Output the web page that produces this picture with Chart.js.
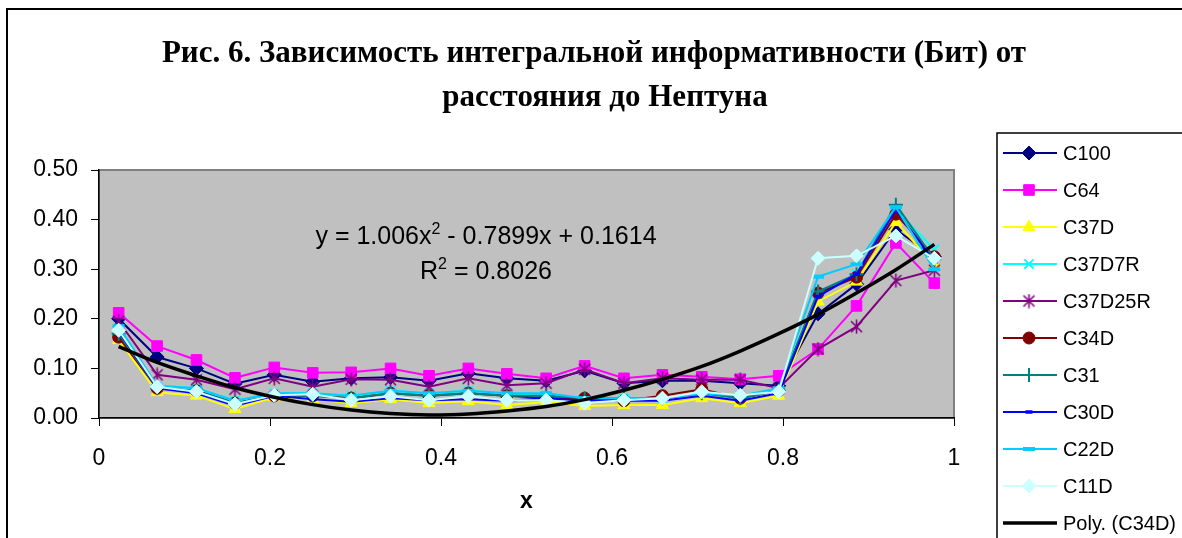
<!DOCTYPE html>
<html><head><meta charset="utf-8">
<script src="https://cdn.jsdelivr.net/npm/chart.js@4/dist/chart.umd.min.js"></script>
<style>html,body{margin:0;padding:0;background:#fff;}canvas{display:block;}</style>
</head><body>
<canvas id="c" width="1182" height="538"></canvas>
<script>
// ---- data ----
const xValues = [0.023,0.068,0.114,0.159,0.205,0.25,0.295,0.341,0.386,0.432,0.477,0.523,0.568,0.614,0.659,0.705,0.75,0.795,0.841,0.886,0.932,0.977];
const seriesNames = ['C100','C64','C37D','C37D7R','C37D25R','C34D','C31','C30D','C22D','C11D'];
const C100    = [0.200,0.123,0.100,0.069,0.087,0.073,0.080,0.082,0.075,0.090,0.080,0.075,0.095,0.070,0.075,0.075,0.070,0.065,0.210,0.270,0.380,0.325];
const C64     = [0.212,0.145,0.117,0.081,0.102,0.091,0.092,0.100,0.085,0.100,0.089,0.080,0.105,0.080,0.087,0.083,0.078,0.085,0.139,0.226,0.353,0.272];
const C37D    = [0.157,0.052,0.045,0.018,0.042,0.038,0.030,0.038,0.030,0.034,0.026,0.032,0.024,0.026,0.026,0.040,0.030,0.045,0.235,0.275,0.395,0.310];
const C37D7R  = [0.180,0.065,0.060,0.035,0.050,0.050,0.045,0.055,0.050,0.055,0.050,0.045,0.040,0.040,0.040,0.050,0.045,0.055,0.250,0.290,0.420,0.340];
const C37D25R = [0.195,0.087,0.077,0.058,0.080,0.063,0.078,0.077,0.063,0.080,0.066,0.070,0.098,0.070,0.080,0.077,0.077,0.060,0.139,0.184,0.277,0.298];
const C34D    = [0.163,0.060,0.055,0.030,0.045,0.045,0.040,0.050,0.045,0.050,0.045,0.040,0.040,0.035,0.045,0.058,0.040,0.055,0.252,0.284,0.411,0.325];
const C31     = [0.170,0.060,0.055,0.030,0.045,0.045,0.040,0.050,0.045,0.050,0.045,0.045,0.040,0.040,0.040,0.050,0.040,0.055,0.255,0.290,0.430,0.320];
const C30D    = [0.175,0.060,0.050,0.025,0.045,0.038,0.033,0.040,0.036,0.038,0.035,0.040,0.035,0.035,0.035,0.045,0.035,0.050,0.245,0.290,0.420,0.315];
const C22D    = [0.185,0.065,0.060,0.035,0.050,0.050,0.045,0.055,0.050,0.055,0.050,0.050,0.040,0.040,0.040,0.050,0.045,0.060,0.285,0.310,0.425,0.300];
const C11D    = [0.177,0.063,0.053,0.028,0.046,0.048,0.036,0.044,0.036,0.044,0.036,0.036,0.030,0.036,0.040,0.053,0.046,0.053,0.322,0.327,0.367,0.322];
const trendName = 'Poly. (C34D)';
const trendC34D = [0.144,0.112,0.085,0.061,0.042,0.027,0.016,0.009,0.006,0.008,0.014,0.023,0.037,0.056,0.078,0.104,0.135,0.170,0.209,0.252,0.299,0.350];
const xTicks = [0,0.2,0.4,0.6,0.8,1];
const yTicks = [0,0.1,0.2,0.3,0.4,0.5];
const titleLines = ['Рис. 6. Зависимость интегральной информативности (Бит) от','расстояния до Нептуна'];
const xTitle = 'x';
const eqParts = [['y = 1.006x',false],['2',true],[' - 0.7899x + 0.1614',false]];
const r2Parts = [['R',false],['2',true],[' = 0.8026',false]];

// ---- styles ----
function asterisk(color){
  const c=document.createElement('canvas'); c.width=15; c.height=15;
  const g=c.getContext('2d'); g.strokeStyle=color; g.lineWidth=1.6;
  g.beginPath(); g.moveTo(2,2); g.lineTo(13,13); g.moveTo(13,2); g.lineTo(2,13);
  g.moveTo(7.5,0.5); g.lineTo(7.5,14.5); g.stroke(); return c;
}
const styles = [
  {color:'#000080', ps:'rectRot', r:7, bw:1},
  {color:'#FF00FF', ps:'rect', r:7.5, bw:1},
  {color:'#FFFF00', ps:'triangle', r:7, bw:1},
  {color:'#00FFFF', ps:'crossRot', r:6.5, bw:2},
  {color:'#800080', ps:asterisk('#800080'), r:7, bw:1},
  {color:'#800000', ps:'circle', r:6, bw:1},
  {color:'#008080', ps:'cross', r:7, bw:2},
  {color:'#0000FF', ps:'line', r:3.5, bw:3.5},
  {color:'#00CCFF', ps:'line', r:6, bw:4},
  {color:'#CCFFFF', ps:'rectRot', r:7, bw:1}
];
const seriesValues = [C100,C64,C37D,C37D7R,C37D25R,C34D,C31,C30D,C22D,C11D];

const datasets = seriesValues.map((vals,i)=>({
  label: seriesNames[i],
  data: vals.map((v,k)=>({x:xValues[k],y:v})),
  borderColor: styles[i].color,
  backgroundColor: styles[i].color,
  borderWidth: 2,
  pointStyle: styles[i].ps,
  pointRadius: styles[i].r,
  pointBorderWidth: styles[i].bw,
  pointBackgroundColor: styles[i].color,
  pointBorderColor: styles[i].color,
  tension: 0,
  order: 10 - i
}));
datasets.push({
  label: trendName,
  data: trendC34D.map((v,k)=>({x:xValues[k],y:v})),
  borderColor:'#000', borderWidth:3.5, pointRadius:0, tension:0.35, order:-1
});

function drawRich(ctx, parts, cx, cy, size){
  const big = size+'px "Liberation Sans", Arial, sans-serif';
  const small = Math.round(size*0.62)+'px "Liberation Sans", Arial, sans-serif';
  let w=0;
  parts.forEach(p=>{ctx.font=p[1]?small:big; w+=ctx.measureText(p[0]).width;});
  let x=cx-w/2;
  ctx.textBaseline='alphabetic'; ctx.textAlign='left'; ctx.fillStyle='#000';
  const base = cy + size*0.36;
  parts.forEach(p=>{
    ctx.font=p[1]?small:big;
    ctx.fillText(p[0], x, p[1]? base - size*0.42 : base);
    x+=ctx.measureText(p[0]).width;
  });
}

const decor = {
  id:'decor',
  beforeDraw(chart){
    const {ctx, chartArea:a} = chart;
    ctx.save();
    ctx.fillStyle='#fff'; ctx.fillRect(0,0,chart.width,chart.height);
    ctx.fillStyle='#C0C0C0'; ctx.fillRect(a.left,a.top,a.right-a.left,a.bottom-a.top);
    ctx.strokeStyle='#808080'; ctx.lineWidth=2;
    ctx.strokeRect(a.left,a.top,a.right-a.left,a.bottom-a.top);
    // outer chart border
    ctx.strokeStyle='#000'; ctx.lineWidth=2;
    ctx.strokeRect(7,9,1300,700);
    // title
    ctx.fillStyle='#000'; ctx.textAlign='center'; ctx.textBaseline='middle';
    ctx.font='bold 31px "Liberation Serif", "Times New Roman", serif';
    ctx.fillText(titleLines[0], 594, 54);
    ctx.fillText(titleLines[1], 605, 98);
    ctx.restore();
  },
  afterDraw(chart){
    const {ctx} = chart;
    const xs = chart.scales.x;
    ctx.save();
    // equation label
    drawRich(ctx, eqParts, 486, 235, 25);
    drawRich(ctx, r2Parts, 486, 270, 25);
    // x title
    ctx.fillStyle='#000'; ctx.textAlign='center'; ctx.textBaseline='middle';
    ctx.font='bold 23px "Liberation Sans", Arial, sans-serif';
    ctx.fillText(xTitle, (xs.left+xs.right)/2, 502);
    // legend box
    ctx.strokeStyle='#000'; ctx.lineWidth=1.5;
    ctx.strokeRect(997,133,400,500);
    const items = chart.data.datasets;
    items.forEach((d,i)=>{
      const y = 153 + 37*i;
      ctx.strokeStyle=d.borderColor; ctx.lineWidth=d.borderWidth;
      ctx.beginPath(); ctx.moveTo(1003,y); ctx.lineTo(1057,y); ctx.stroke();
      if (d.pointRadius){
        ctx.fillStyle=d.pointBackgroundColor; ctx.strokeStyle=d.pointBorderColor;
        ctx.lineWidth=d.pointBorderWidth;
        Chart.helpers.drawPoint(ctx,{pointStyle:d.pointStyle,radius:d.pointRadius,rotation:0,borderWidth:d.pointBorderWidth},1029,y);
      }
      ctx.fillStyle='#000'; ctx.textAlign='left'; ctx.textBaseline='middle';
      ctx.font='20px "Liberation Sans", Arial, sans-serif';
      ctx.fillText(d.label,1063,y+1);
    });
    ctx.restore();
  }
};

new Chart(document.getElementById('c'), {
  type:'line',
  data:{datasets},
  options:{
    responsive:false, animation:false, devicePixelRatio:1,
    layout:{padding:{left:0,right:228,top:170,bottom:0}},
    plugins:{legend:{display:false}, title:{display:false}, tooltip:{enabled:false}},
    scales:{
      x:{type:'linear', min:0, max:1,
        afterBuildTicks:s=>{s.ticks = xTicks.map(v=>({value:v}));},
        afterFit:s=>{s.height=120;},
        ticks:{callback:v=>String(Math.round(v*10)/10), color:'#000', padding:19, maxRotation:0,
          font:{family:'"Liberation Sans", Arial, sans-serif', size:23}},
        grid:{drawOnChartArea:false, drawTicks:true, tickLength:8, color:'#000', tickWidth:1},
        border:{display:true, color:'#000', width:1.5}
      },
      y:{type:'linear', min:0, max:0.5,
        afterBuildTicks:s=>{s.ticks = yTicks.map(v=>({value:v}));},
        afterFit:s=>{s.width=99;},
        ticks:{callback:v=>v.toFixed(2), color:'#000', padding:13,
          font:{family:'"Liberation Sans", Arial, sans-serif', size:23}},
        grid:{drawOnChartArea:false, drawTicks:true, tickLength:8, color:'#000', tickWidth:1},
        border:{display:true, color:'#000', width:1.5}
      }
    }
  },
  plugins:[decor]
});
</script>
</body></html>
